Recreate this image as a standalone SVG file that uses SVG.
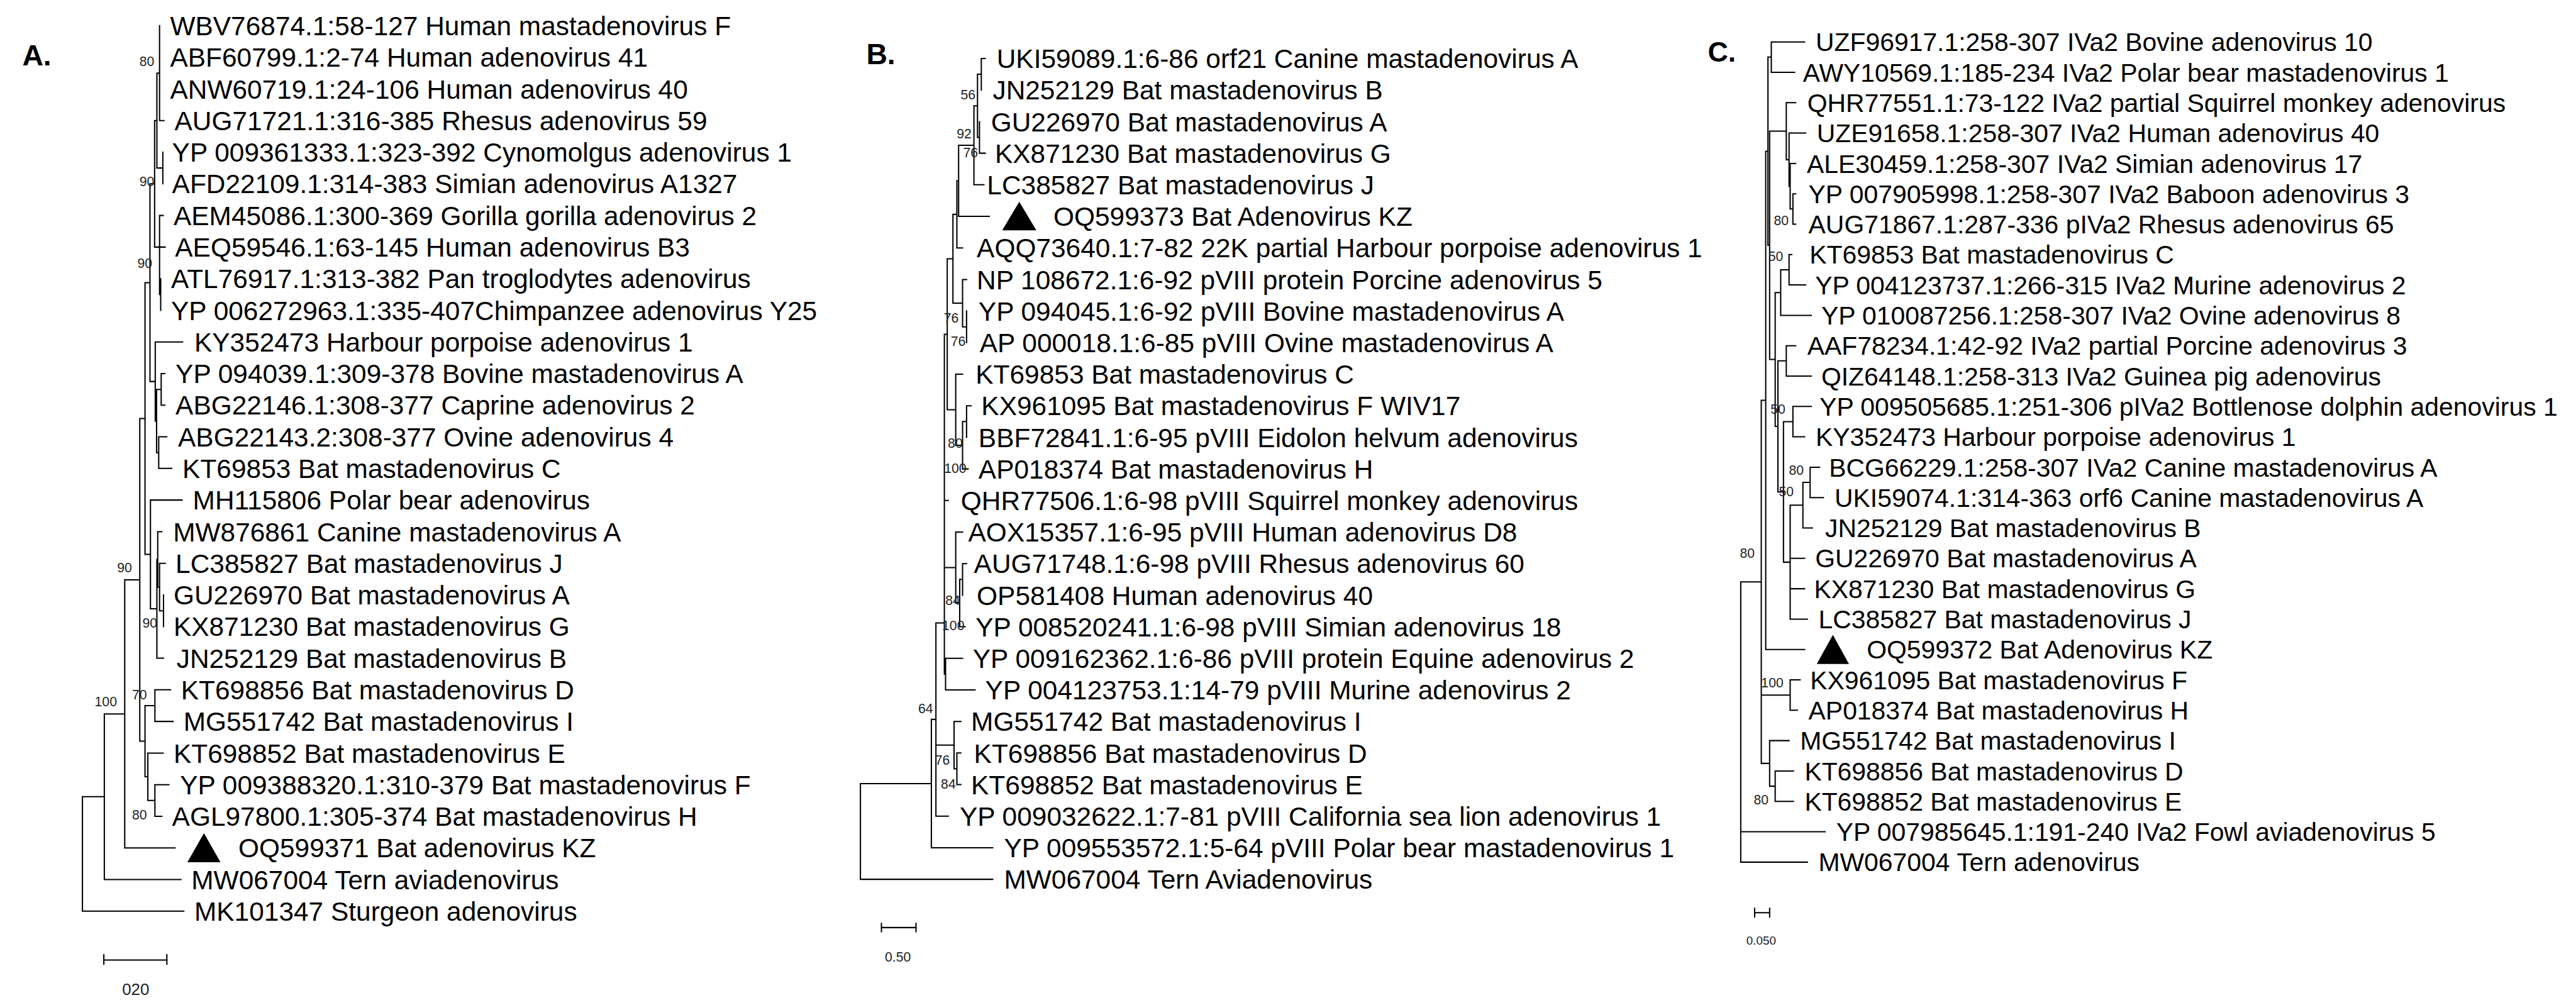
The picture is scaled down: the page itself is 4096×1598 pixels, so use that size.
<svg xmlns="http://www.w3.org/2000/svg" width="4096" height="1598" viewBox="0 0 4096 1598">
<style>
.t{font-family:"Liberation Sans",Arial,sans-serif;font-size:54px;fill:#000}
.tc{font-family:"Liberation Sans",Arial,sans-serif;font-size:52px;fill:#000}
.bs{font-family:"Liberation Sans",Arial,sans-serif;font-size:27px;fill:#222;text-anchor:middle}
.pl{font-family:"Liberation Sans",Arial,sans-serif;font-size:59px;font-weight:bold;fill:#000}
.sc{font-family:"Liberation Sans",Arial,sans-serif;font-size:27px;fill:#222;text-anchor:middle}
.br{fill:none;stroke:#000;stroke-width:2.6;stroke-linecap:square}
.tri{fill:#000}
</style>
<rect width="4096" height="1598" fill="#fff"/>
<g transform="scale(0.78618)">
<!-- ================= TREE A ================= -->
<g id="panelA">
<text class="pl" x="45" y="132">A.</text>
<g id="A-connectors">
<path class="br" d="M322.7 52 V243.9 M322.7 243.9 H331.7
M317.3 148 V339.8 M317.3 148 H322.7 M317.3 339.8 H329.3
M329.3 307.8 V371.8
M312.7 243.9 V499.7 M312.7 243.9 H317.3 M312.7 499.7 H322.7
M322.7 435.8 V595.7 M322.7 435.8 H330 M322.7 499.7 H334 M322.7 595.7 H325
M325 563.7 V627.6
M303.3 371.8 V771.6 M303.3 371.8 H312.7 M303.3 771.6 H314
M314 691.6 V851.6 M314 691.6 H369.3 M314 851.6 H316.7
M316.7 787.6 V915.5 M316.7 787.6 H326 M316.7 915.5 H321
M326 755.6 V819.5 M326 755.6 H333.3 M326 819.5 H333.3
M321 883.5 V947.4 M321 883.5 H337.3 M321 947.4 H347.3
M304.3 1011.4 V1231.2 M304.3 1011.4 H368.3 M304.3 1231.2 H317.3
M317.3 1131.3 V1331.2 M317.3 1131.3 H319 M317.3 1331.2 H330.7
M319 1075.4 V1187.3 M319 1075.4 H327.3 M319 1187.3 H322.7
M322.7 1139.3 V1235.3 M322.7 1139.3 H334.3 M322.7 1235.3 H330.7
M330.7 1203.3 V1267.2
M293.3 571.7 V1121.3 M293.3 571.7 H303.3 M293.3 1121.3 H304.3
M293.3 1427.1 V1571 M293.3 1427.1 H313.3 M293.3 1571 H299
M313.3 1395.1 V1459.1 M313.3 1395.1 H345 M313.3 1459.1 H350
M299 1523.1 V1619 M299 1523.1 H330 M299 1619 H313.3
M313.3 1587 V1651 M313.3 1587 H341.7 M313.3 1651 H327.3
M282.7 846.5 V1499 M282.7 846.5 H293.3 M282.7 1499 H293.3
M252.3 1172.8 V1714.9 M252.3 1172.8 H282.7 M252.3 1714.9 H354
M211 1443.9 V1778.9 M211 1443.9 H252.3 M211 1778.9 H366
M166.7 1611.4 V1842.9 M166.7 1611.4 H211 M166.7 1842.9 H371.7"/>
</g>
<g id="A-bootstrap">
<text class="bs" x="297" y="134">80</text>
<text class="bs" x="297" y="377">90</text>
<text class="bs" x="293" y="542">90</text>
<text class="bs" x="252" y="1157">90</text>
<text class="bs" x="303" y="1270">90</text>
<text class="bs" x="214" y="1429">100</text>
<text class="bs" x="282" y="1414">70</text>
<text class="bs" x="282" y="1657">80</text>
</g>
<g id="A-leaves">
<g id="A1"><text class="t" x="344" y="71.3">WBV76874.1:58-127 Human mastadenovirus F</text></g>
<g id="A2"><text class="t" x="344" y="135.3">ABF60799.1:2-74 Human adenovirus 41</text></g>
<g id="A3"><text class="t" x="344" y="199.2">ANW60719.1:24-106 Human adenovirus 40</text></g>
<g id="A4"><text class="t" x="353" y="263.2">AUG71721.1:316-385 Rhesus adenovirus 59</text></g>
<g id="A5"><text class="t" x="348" y="327.1">YP 009361333.1:323-392 Cynomolgus adenovirus 1</text></g>
<g id="A6"><text class="t" x="348" y="391.1">AFD22109.1:314-383 Simian adenovirus A1327</text></g>
<g id="A7"><text class="t" x="351" y="455.1">AEM45086.1:300-369 Gorilla gorilla adenovirus 2</text></g>
<g id="A8"><text class="t" x="354" y="519">AEQ59546.1:63-145 Human adenovirus B3</text></g>
<g id="A9"><text class="t" x="346" y="583">ATL76917.1:313-382 Pan troglodytes adenovirus</text></g>
<g id="A10"><text class="t" x="346" y="646.9">YP 006272963.1:335-407Chimpanzee adenovirus Y25</text></g>
<g id="A11"><text class="t" x="393" y="710.9">KY352473 Harbour porpoise adenovirus 1</text></g>
<g id="A12"><text class="t" x="355" y="774.9">YP 094039.1:309-378 Bovine mastadenovirus A</text></g>
<g id="A13"><text class="t" x="355" y="838.8">ABG22146.1:308-377 Caprine adenovirus 2</text></g>
<g id="A14"><text class="t" x="360" y="902.8">ABG22143.2:308-377 Ovine adenovirus 4</text></g>
<g id="A15"><text class="t" x="369" y="966.7">KT69853 Bat mastadenovirus C</text></g>
<g id="A16"><text class="t" x="390" y="1030.7">MH115806 Polar bear adenovirus</text></g>
<g id="A17"><text class="t" x="350" y="1094.7">MW876861 Canine mastadenovirus A</text></g>
<g id="A18"><text class="t" x="355" y="1158.6">LC385827 Bat mastadenovirus J</text></g>
<g id="A19"><text class="t" x="351" y="1222.6">GU226970 Bat mastadenovirus A</text></g>
<g id="A20"><text class="t" x="351" y="1286.5">KX871230 Bat mastadenovirus G</text></g>
<g id="A21"><text class="t" x="357" y="1350.5">JN252129 Bat mastadenovirus B</text></g>
<g id="A22"><text class="t" x="366" y="1414.4">KT698856 Bat mastadenovirus D</text></g>
<g id="A23"><text class="t" x="371" y="1478.4">MG551742 Bat mastadenovirus I</text></g>
<g id="A24"><text class="t" x="351" y="1542.4">KT698852 Bat mastadenovirus E</text></g>
<g id="A25"><text class="t" x="364" y="1606.3">YP 009388320.1:310-379 Bat mastadenovirus F</text></g>
<g id="A26"><text class="t" x="348" y="1670.3">AGL97800.1:305-374 Bat mastadenovirus H</text></g>
<g id="A27"><polygon class="tri" points="379,1744 446,1744 412.5,1685"/><text class="t" x="482" y="1734.2">OQ599371 Bat adenovirus KZ</text></g>
<g id="A28"><text class="t" x="387" y="1798.2">MW067004 Tern aviadenovirus</text></g>
<g id="A29"><text class="t" x="393" y="1862.2">MK101347 Sturgeon adenovirus</text></g>
</g>
<g id="A-scale">
<path class="br" d="M210 1941.6 H337.5 M210 1931 V1950 M337.5 1931 V1950"/>
<text class="sc" x="274.5" y="2012" style="font-size:33px">020</text>
</g>
</g>
<!-- ================= TREE B ================= -->
<g id="panelB">
<text class="pl" x="1752" y="130">B.</text>
<g id="B-connectors">
<path class="br" d="M1984.7 118.3 V182.2 M1984.7 118.3 H1992.7
M1981 246 V309.9 M1981 309.9 H1992.7
M1977 150.2 V278 M1977 150.2 H1984.7 M1977 278 H1981
M1969.8 214.1 V373.7 M1969.8 214.1 H1977 M1969.8 373.7 H1990
M1938.8 293.9 V437.6 M1938.8 293.9 H1969.8 M1938.8 437.6 H2000.8
M1935.3 365.8 V501.4 M1935.3 365.8 H1938.8 M1935.3 501.4 H1946.8
M1954.9 629.1 V693
M1946.8 565.3 V661 M1946.8 565.3 H1954.9 M1946.8 661 H1954.9
M1927.3 433.6 V613.2 M1927.3 433.6 H1935.3 M1927.3 613.2 H1946.8
M1954.9 820.7 V884.5 M1954.9 820.7 H1964
M1946.8 852.6 V948.4 M1946.8 852.6 H1954.9 M1946.8 948.4 H1958
M1933 756.8 V900.5 M1933 756.8 H1946.8 M1933 900.5 H1946.8
M1915.8 523.3 V828.6 M1915.8 523.3 H1927.3 M1915.8 828.6 H1933
M1946.8 1139.9 V1203.8 M1946.8 1139.9 H1954.9
M1941 1171.9 V1267.6 M1941 1171.9 H1946.8 M1941 1267.6 H1952
M1933 1076.1 V1219.7 M1933 1076.1 H1946.8 M1933 1219.7 H1941
M1910 676 V1363.4 M1910 676 H1915.8 M1910 1012.2 H1918 M1910 1147.9 H1933 M1910 1363.4 H1912.4
M1912.4 1331.5 V1395.3 M1912.4 1331.5 H1946.8 M1912.4 1395.3 H1972
M1935.3 1523 V1586.9 M1935.3 1523 H1943.4 M1935.3 1586.9 H1943.4
M1929.6 1459.2 V1555 M1929.6 1459.2 H1943.4 M1929.6 1555 H1935.3
M1892.9 1260 V1650.7 M1892.9 1260 H1910 M1892.9 1507 H1929.6 M1892.9 1650.7 H1918
M1883.7 1455 V1714.6 M1883.7 1455 H1892.9 M1883.7 1714.6 H2007.7
M1740.2 1584.8 V1778.4 M1740.2 1584.8 H1883.7 M1740.2 1778.4 H2007.7"/>
</g>
<g id="B-bootstrap">
<text class="bs" x="1958" y="201">56</text>
<text class="bs" x="1950" y="280">92</text>
<text class="bs" x="1963" y="318">76</text>
<text class="bs" x="1924" y="653">76</text>
<text class="bs" x="1938" y="700">76</text>
<text class="bs" x="1932" y="906">80</text>
<text class="bs" x="1932" y="956">100</text>
<text class="bs" x="1927" y="1224">84</text>
<text class="bs" x="1928" y="1274">100</text>
<text class="bs" x="1872" y="1442">64</text>
<text class="bs" x="1906" y="1547">76</text>
<text class="bs" x="1918" y="1595">84</text>
</g>
<g id="B-leaves">
<g id="B1"><text class="t" x="2015.7" y="137.6">UKI59089.1:6-86 orf21 Canine mastadenovirus A</text></g>
<g id="B2"><text class="t" x="2007.7" y="201.5">JN252129 Bat mastadenovirus B</text></g>
<g id="B3"><text class="t" x="2004.2" y="265.3">GU226970 Bat mastadenovirus A</text></g>
<g id="B4"><text class="t" x="2012.2" y="329.2">KX871230 Bat mastadenovirus G</text></g>
<g id="B5"><text class="t" x="1996.2" y="393">LC385827 Bat mastadenovirus J</text></g>
<g id="B6"><polygon class="tri" points="2027,466 2096,466 2061.5,408"/><text class="t" x="2130.5" y="456.9">OQ599373 Bat Adenovirus KZ</text></g>
<g id="B7"><text class="t" x="1975.5" y="520.7">AQQ73640.1:7-82 22K partial Harbour porpoise adenovirus 1</text></g>
<g id="B8"><text class="t" x="1975.5" y="584.6">NP 108672.1:6-92 pVIII protein Porcine adenovirus 5</text></g>
<g id="B9"><text class="t" x="1979" y="648.4">YP 094045.1:6-92 pVIII Bovine mastadenovirus A</text></g>
<g id="B10"><text class="t" x="1981.3" y="712.3">AP 000018.1:6-85 pVIII Ovine mastadenovirus A</text></g>
<g id="B11"><text class="t" x="1973.2" y="776.1">KT69853 Bat mastadenovirus C</text></g>
<g id="B12"><text class="t" x="1984.7" y="840">KX961095 Bat mastadenovirus F WIV17</text></g>
<g id="B13"><text class="t" x="1979" y="903.8">BBF72841.1:6-95 pVIII Eidolon helvum adenovirus</text></g>
<g id="B14"><text class="t" x="1979" y="967.7">AP018374 Bat mastadenovirus H</text></g>
<g id="B15"><text class="t" x="1943.4" y="1031.5">QHR77506.1:6-98 pVIII Squirrel monkey adenovirus</text></g>
<g id="B16"><text class="t" x="1958.3" y="1095.4">AOX15357.1:6-95 pVIII Human adenovirus D8</text></g>
<g id="B17"><text class="t" x="1969.8" y="1159.2">AUG71748.1:6-98 pVIII Rhesus adenovirus 60</text></g>
<g id="B18"><text class="t" x="1975.5" y="1223.1">OP581408 Human adenovirus 40</text></g>
<g id="B19"><text class="t" x="1973.2" y="1286.9">YP 008520241.1:6-98 pVIII Simian adenovirus 18</text></g>
<g id="B20"><text class="t" x="1967.5" y="1350.8">YP 009162362.1:6-86 pVIII protein Equine adenovirus 2</text></g>
<g id="B21"><text class="t" x="1992.7" y="1414.6">YP 004123753.1:14-79 pVIII Murine adenovirus 2</text></g>
<g id="B22"><text class="t" x="1964" y="1478.5">MG551742 Bat mastadenovirus I</text></g>
<g id="B23"><text class="t" x="1969.8" y="1542.3">KT698856 Bat mastadenovirus D</text></g>
<g id="B24"><text class="t" x="1964" y="1606.2">KT698852 Bat mastadenovirus E</text></g>
<g id="B25"><text class="t" x="1941" y="1670">YP 009032622.1:7-81 pVIII California sea lion adenovirus 1</text></g>
<g id="B26"><text class="t" x="2030.6" y="1733.9">YP 009553572.1:5-64 pVIII Polar bear mastadenovirus 1</text></g>
<g id="B27"><text class="t" x="2030.6" y="1797.7">MW067004 Tern Aviadenovirus</text></g>
</g>
<g id="B-scale">
<path class="br" d="M1782.7 1876 H1852.7 M1782.7 1867.6 V1884.4 M1852.7 1867.6 V1884.4"/>
<text class="sc" x="1816" y="1945">0.50</text>
</g>
</g>
<!-- ================= TREE C ================= -->
<g id="panelC">
<text class="pl" x="3454" y="125" style="font-size:57px">C.</text>
<g id="C-connectors">
<path class="br" d="M3582.5 84.8 V146.2 M3582.5 84.8 H3649.8 M3582.5 146.2 H3629.6
M3626.2 392 V453.4 M3626.2 392 H3631.8 M3626.2 453.4 H3631.8
M3620.6 330.6 V422.7 M3620.6 330.6 H3631.8 M3620.6 422.7 H3626.2
M3618.4 269.1 V376.7 M3618.4 269.1 H3652 M3618.4 376.7 H3620.6
M3612.8 207.7 V322.9 M3612.8 207.7 H3631.8 M3612.8 322.9 H3618.4
M3618.4 514.9 V576.3 M3618.4 514.9 H3624 M3618.4 576.3 H3652
M3601.5 545.6 V637.8 M3601.5 545.6 H3618.4 M3601.5 637.8 H3663.3
M3612.8 699.2 V760.6 M3612.8 699.2 H3631.8 M3612.8 760.6 H3663.3
M3626.2 822.1 V883.5 M3626.2 822.1 H3663.3 M3626.2 883.5 H3649.8
M3661 945 V1006.4 M3661 945 H3680.1 M3661 1006.4 H3688
M3646.4 975.7 V1067.8 M3646.4 975.7 H3661 M3646.4 1067.8 H3665.5
M3620.6 1021.8 V1252.2 M3620.6 1021.8 H3646.4 M3620.6 1129.3 H3649.8 M3620.6 1190.7 H3649.8 M3620.6 1252.2 H3655.4
M3607.1 852.8 V1137 M3607.1 852.8 H3626.2 M3607.1 1137 H3620.6
M3595.9 729.9 V994.9 M3595.9 729.9 H3612.8 M3595.9 994.9 H3607.1
M3590.3 591.7 V862.4 M3590.3 591.7 H3601.5 M3590.3 862.4 H3595.9
M3579.1 265.3 V727 M3579.1 265.3 H3612.8 M3579.1 727 H3590.3
M3575.7 115.5 V496 M3575.7 115.5 H3582.5 M3575.7 496 H3579.1
M3571.2 305.8 V1313.6 M3571.2 305.8 H3575.7 M3571.2 1313.6 H3650
M3620.6 1375 V1436.5 M3620.6 1375 H3640.8 M3620.6 1436.5 H3635.2
M3590.3 1559.4 V1620.8 M3590.3 1559.4 H3627.3 M3590.3 1620.8 H3627.3
M3579.1 1497.9 V1590.1 M3579.1 1497.9 H3618.4 M3579.1 1590.1 H3590.3
M3562.2 809.7 V1544 M3562.2 809.7 H3571.2 M3562.2 1405.8 H3620.6 M3562.2 1544 H3579.1
M3520.7 1176.9 V1743.7 M3520.7 1176.9 H3562.2 M3520.7 1682.2 H3691.3 M3520.7 1743.7 H3655.4"/>
</g>
<g id="C-bootstrap">
<text class="bs" x="3602.5" y="456">80</text>
<text class="bs" x="3591.4" y="528">50</text>
<text class="bs" x="3596" y="837">50</text>
<text class="bs" x="3633" y="960">80</text>
<text class="bs" x="3612.8" y="1004">50</text>
<text class="bs" x="3534" y="1128">80</text>
<text class="bs" x="3584.5" y="1390">100</text>
<text class="bs" x="3562" y="1627">80</text>
</g>
<g id="C-leaves">
<g id="C1"><text class="tc" x="3672.2" y="103.4">UZF96917.1:258-307 IVa2 Bovine adenovirus 10</text></g>
<g id="C2"><text class="tc" x="3646.4" y="164.8">AWY10569.1:185-234 IVa2 Polar bear mastadenovirus 1</text></g>
<g id="C3"><text class="tc" x="3655.4" y="226.3">QHR77551.1:73-122 IVa2 partial Squirrel monkey adenovirus</text></g>
<g id="C4"><text class="tc" x="3674.5" y="287.7">UZE91658.1:258-307 IVa2 Human adenovirus 40</text></g>
<g id="C5"><text class="tc" x="3654.3" y="349.2">ALE30459.1:258-307 IVa2 Simian adenovirus 17</text></g>
<g id="C6"><text class="tc" x="3657.7" y="410.6">YP 007905998.1:258-307 IVa2 Baboon adenovirus 3</text></g>
<g id="C7"><text class="tc" x="3657.7" y="472">AUG71867.1:287-336 pIVa2 Rhesus adenovirus 65</text></g>
<g id="C8"><text class="tc" x="3659.9" y="533.5">KT69853 Bat mastadenovirus C</text></g>
<g id="C9"><text class="tc" x="3671.1" y="594.9">YP 004123737.1:266-315 IVa2 Murine adenovirus 2</text></g>
<g id="C10"><text class="tc" x="3683.5" y="656.4">YP 010087256.1:258-307 IVa2 Ovine adenovirus 8</text></g>
<g id="C11"><text class="tc" x="3655.4" y="717.8">AAF78234.1:42-92 IVa2 partial Porcine adenovirus 3</text></g>
<g id="C12"><text class="tc" x="3683.5" y="779.2">QIZ64148.1:258-313 IVa2 Guinea pig adenovirus</text></g>
<g id="C13"><text class="tc" x="3680.1" y="840.7">YP 009505685.1:251-306 pIVa2 Bottlenose dolphin adenovirus 1</text></g>
<g id="C14"><text class="tc" x="3672.2" y="902.1">KY352473 Harbour porpoise adenovirus 1</text></g>
<g id="C15"><text class="tc" x="3699.2" y="963.6">BCG66229.1:258-307 IVa2 Canine mastadenovirus A</text></g>
<g id="C16"><text class="tc" x="3710.4" y="1025">UKI59074.1:314-363 orf6 Canine mastadenovirus A</text></g>
<g id="C17"><text class="tc" x="3691.3" y="1086.4">JN252129 Bat mastadenovirus B</text></g>
<g id="C18"><text class="tc" x="3671.1" y="1147.9">GU226970 Bat mastadenovirus A</text></g>
<g id="C19"><text class="tc" x="3668.9" y="1209.3">KX871230 Bat mastadenovirus G</text></g>
<g id="C20"><text class="tc" x="3677.9" y="1270.8">LC385827 Bat mastadenovirus J</text></g>
<g id="C21"><polygon class="tri" points="3674.5,1343 3739.6,1343 3707,1284"/><text class="tc" x="3775.5" y="1332.2">OQ599372 Bat Adenovirus KZ</text></g>
<g id="C22"><text class="tc" x="3661" y="1393.6">KX961095 Bat mastadenovirus F</text></g>
<g id="C23"><text class="tc" x="3657.7" y="1455.1">AP018374 Bat mastadenovirus H</text></g>
<g id="C24"><text class="tc" x="3640.8" y="1516.5">MG551742 Bat mastadenovirus I</text></g>
<g id="C25"><text class="tc" x="3649.8" y="1578">KT698856 Bat mastadenovirus D</text></g>
<g id="C26"><text class="tc" x="3649.8" y="1639.4">KT698852 Bat mastadenovirus E</text></g>
<g id="C27"><text class="tc" x="3713.8" y="1700.8">YP 007985645.1:191-240 IVa2 Fowl aviadenovirus 5</text></g>
<g id="C28"><text class="tc" x="3677.9" y="1762.3">MW067004 Tern adenovirus</text></g>
</g>
<g id="C-scale">
<path class="br" d="M3548.8 1845.9 H3579.1 M3548.8 1837 V1854.6 M3579.1 1837 V1854.6"/>
<text class="sc" x="3562" y="1911" style="font-size:24px">0.050</text>
</g>
</g>
</g>
</svg>
